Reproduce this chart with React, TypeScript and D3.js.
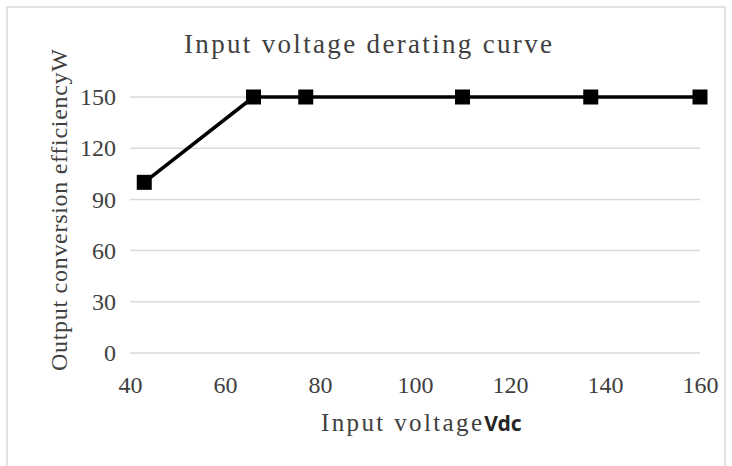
import React, { useEffect, useRef } from 'react';
import * as d3 from 'd3';

// input voltage (Vdc) vs output power (W)
const voltages = [43, 66, 77, 110, 137, 160];
const outputW = [100, 150, 150, 150, 150, 150];
const xTicks = [40, 60, 80, 100, 120, 140, 160];
const yTicks = [0, 30, 60, 90, 120, 150];

const titleText = "Input voltage derating curve";
const xTitleText = "Input voltage";
const xTitleUnit = "Vdc";
const yTitleText = "Output conversion efficiencyW";

const App: React.FC = () => {
  const svgRef = useRef<SVGSVGElement | null>(null);

  useEffect(() => {
    const width = 732;
    const height = 466;
    const marginLeft = 130;
    const marginRight = 32;
    const marginTop = 97;
    const plotBottom = 353;

    const svg = d3.select(svgRef.current);
    svg.selectAll("*").remove();
    svg.attr("viewBox", [0, 0, width, height].join(" "));

    const x = d3.scaleLinear().domain([40, 160]).range([marginLeft, width - marginRight]);
    const y = d3.scaleLinear().domain([0, 150]).range([plotBottom, marginTop]);

    // chart frame
    svg.append("rect")
      .attr("x", 7).attr("y", 7)
      .attr("width", 718).attr("height", 470)
      .attr("fill", "white")
      .attr("stroke", "#d9d9d9")
      .attr("stroke-width", 1.5);

    // gridlines
    svg.append("g")
      .selectAll("line")
      .data(yTicks)
      .join("line")
      .attr("x1", x(40)).attr("x2", x(160))
      .attr("y1", d => y(d)).attr("y2", d => y(d))
      .attr("stroke", "#d9d9d9")
      .attr("stroke-width", 1.5);

    const serif = "'Liberation Serif', 'Times New Roman', serif";

    svg.append("g")
      .attr("transform", `translate(${marginLeft},0)`)
      .call(d3.axisLeft(y).tickValues(yTicks).tickSize(0).tickPadding(14).tickFormat(d3.format("d")))
      .call(g => g.select(".domain").remove())
      .call(g => g.selectAll("text").attr("font-size", 24).attr("font-family", serif).attr("fill", "#404040"));

    svg.append("g")
      .attr("transform", `translate(0,${plotBottom})`)
      .call(d3.axisBottom(x).tickValues(xTicks).tickSize(0).tickPadding(23).tickFormat(d3.format("d")))
      .call(g => g.select(".domain").remove())
      .call(g => g.selectAll("text").attr("font-size", 24).attr("font-family", serif).attr("fill", "#404040"));

    // line + square markers
    const pts = voltages.map((v, i) => [v, outputW[i]] as [number, number]);
    const line = d3.line<[number, number]>().x(d => x(d[0])).y(d => y(d[1]));

    svg.append("path")
      .datum(pts)
      .attr("d", line)
      .attr("fill", "none")
      .attr("stroke", "black")
      .attr("stroke-width", 3.5)
      .attr("stroke-linejoin", "round");

    const size = 15;
    svg.append("g")
      .selectAll("rect")
      .data(pts)
      .join("rect")
      .attr("x", d => x(d[0]) - size / 2)
      .attr("y", d => y(d[1]) - size / 2)
      .attr("width", size)
      .attr("height", size)
      .attr("fill", "black");

    // titles
    svg.append("text")
      .attr("x", 184).attr("y", 53)
      .attr("font-family", serif)
      .attr("font-size", 27)
      .attr("fill", "#404040")
      .attr("textLength", 368)
      .attr("lengthAdjust", "spacing")
      .text(titleText);

    const xt = svg.append("text")
      .attr("x", 321).attr("y", 431)
      .attr("font-family", serif)
      .attr("font-size", 25)
      .attr("fill", "#404040");
    xt.append("tspan")
      .attr("textLength", 161)
      .attr("lengthAdjust", "spacing")
      .text(xTitleText);
    xt.append("tspan")
      .attr("font-family", "'Noto Sans', 'DejaVu Sans', sans-serif")
      .attr("font-weight", "bold")
      .attr("font-size", 21)
      .attr("fill", "#262626")
      .text(xTitleUnit);

    svg.append("text")
      .attr("transform", `translate(67,371) rotate(-90)`)
      .attr("font-family", serif)
      .attr("font-size", 24)
      .attr("fill", "#404040")
      .attr("textLength", 322)
      .attr("lengthAdjust", "spacing")
      .text(yTitleText);
  }, []);

  return (
    <svg
      ref={svgRef}
      width={732}
      height={466}
      style={{ position: "absolute", left: 0, top: 0, background: "white" }}
    />
  );
};

export default App;
